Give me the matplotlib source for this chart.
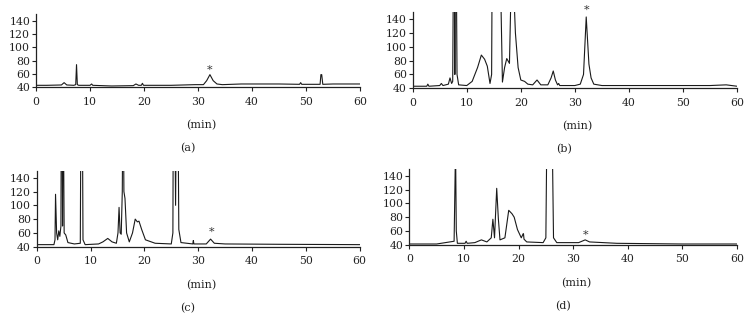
import matplotlib
matplotlib.use("Agg")
import matplotlib.pyplot as plt

plt.rcParams['font.family'] = ['DejaVu Serif']

# ---- data (time in min, detector signal) ----
a_t = [0, 2, 4.7, 5.2, 5.7, 7.0, 7.35, 7.5, 7.65, 7.9, 10, 10.3, 10.5, 14, 18, 18.5, 19, 19.5,
       19.7, 19.9, 25, 29.5, 31, 31.6, 32.2, 32.8, 33.5, 34.5, 38, 45, 48.8, 49, 49.2,
       52.6, 52.75, 52.9, 53.1, 55, 60]
a_v = [43, 43, 43.5, 47, 43.5, 43, 44, 74, 44, 43, 43, 45, 43, 42, 42.5, 45, 43, 43,
       46, 43, 43, 44, 44, 50, 59, 50, 45, 44, 45, 45, 44.5, 47, 44.5,
       44.5, 59, 59, 44.5, 45, 45]
a_star = (32.2, 66)

b_t = [0, 2.6, 2.8, 3.0, 5.0, 5.3, 5.6, 6.6, 6.9, 7.2, 7.4, 7.6, 7.7, 7.8, 7.9, 8.0, 8.2, 8.5,
       10, 11, 12.0, 12.7, 13.3, 13.8, 14.3, 14.6, 14.75, 14.9, 15.4, 16.0, 16.6, 17.0, 17.4,
       17.9, 18.1, 18.3, 18.6, 19.0, 19.5, 20.0, 20.7, 21.3, 22.2, 23.0, 23.7, 25.0, 25.6, 26.0,
       26.4, 26.8, 27.0, 27.2, 29, 30, 31.0, 31.6, 32.1, 32.6, 33.0, 33.5, 35, 40, 50, 55, 58, 60]
b_v = [43, 43, 46, 43, 44, 47, 44, 46, 55, 47, 50, 300, 300, 60, 300, 300, 60, 45,
       44, 50, 70, 88, 82, 72, 47, 60, 300, 300, 300, 300, 49, 70, 83,
       76, 150, 200, 200, 120, 70, 52, 50, 46, 45, 52, 45, 45, 55, 65,
       52, 45, 47, 44, 44, 44, 46, 60, 143, 75, 55, 46, 44, 44, 44, 44, 45, 43]
b_star = (32.2, 153)

c_t = [0, 3.2, 3.4, 3.5, 3.7, 3.9, 4.1, 4.3, 4.5, 4.6, 4.7, 4.8, 4.9, 5.1, 5.4, 5.8, 7.0,
       8.1, 8.25, 8.35, 8.45, 8.6, 9.0, 11.5, 12.3, 13.2, 14.0, 14.8, 15.1, 15.3, 15.5, 15.7,
       15.9, 16.05, 16.2, 16.4, 16.7, 17.2, 17.8, 18.3, 18.7, 19.0, 19.5, 20.2, 22, 25,
       25.3, 25.4, 25.6, 25.8, 26.0, 26.2, 26.4, 26.8, 29, 29.1, 29.2, 31.5, 32.3, 33, 35, 45, 60]
c_v = [43, 43, 50, 116, 60, 50, 63, 55, 70, 300, 300, 70, 300, 60, 57, 46, 44,
       45, 300, 300, 300, 50, 43, 44, 47, 52, 47, 45, 60, 97, 60, 58,
       120, 300, 120, 110, 60, 47, 60, 80, 76, 77, 65, 50, 45, 44,
       60, 300, 300, 100, 300, 300, 65, 46, 44, 49, 44, 44, 51, 45, 44, 43.5, 43]
c_star = (32.4, 61)

d_t = [0, 5, 8.2, 8.4, 8.5, 8.6, 8.8, 10.2, 10.4, 10.6, 12.0, 13.2, 14.2, 15.0, 15.3, 15.6,
       16.0, 16.3, 16.6, 17.5, 18.2, 18.8, 19.2, 19.8, 20.5, 20.85, 20.9, 21.0, 21.5, 24.5,
       25.0, 25.3, 25.5, 25.8, 26.0, 26.4, 27, 31, 32.2, 33, 38, 50, 60]
d_v = [41, 41, 45, 150, 150, 60, 42, 42, 45, 42, 43, 47, 44, 50, 77, 50,
       122, 78, 47, 50, 90, 85, 80, 62, 50, 56, 56, 48, 44, 43,
       50, 300, 300, 300, 300, 50, 43, 43, 47, 44, 42, 41, 41]
d_star = (32.2, 55)

panels = [
    ("(a)", a_t, a_v, a_star, [0.0479, 0.737, 0.4309, 0.221]),
    ("(b)", b_t, b_v, b_star, [0.5488, 0.734, 0.4313, 0.2295]),
    ("(c)", c_t, c_v, c_star, [0.0488, 0.2569, 0.4295, 0.2286]),
    ("(d)", d_t, d_v, d_star, [0.5443, 0.263, 0.4358, 0.2277]),
]
xticks = [0, 10, 20, 30, 40, 50, 60]
yticks = [40, 60, 80, 100, 120, 140]

fig = plt.figure(figsize=(7.52, 3.32), dpi=100)
for label, t, v, star, pos in panels:
    ax = fig.add_axes(pos)
    ax.plot(t, v, color='#1a1a1a', lw=0.8)
    ax.set_xlim(0, 60)
    ax.set_ylim(40, 150)
    ax.set_xticks(xticks)
    ax.set_yticks(yticks)
    for s in ['top', 'right']:
        ax.spines[s].set_visible(False)
    for s in ['left', 'bottom']:
        ax.spines[s].set_linewidth(0.9)
        ax.spines[s].set_color('#222222')
    ax.tick_params(axis='both', direction='out', length=3, width=0.8, labelsize=7.8,
                   colors='#222222', pad=1.2)
    ax.tick_params(axis='x', pad=4)
    ax.text(star[0], star[1], '*', ha='center', va='center', fontsize=8,
            color='#333333', clip_on=False)
    ax.annotate('(min)', xy=(0.5, 0), xycoords='axes fraction', xytext=(2, -27.5),
                textcoords='offset points', ha='center', va='center', fontsize=8,
                color='#222222')
    ax.annotate(label, xy=(0.5, 0), xycoords='axes fraction', xytext=(-7.5, -44),
                textcoords='offset points', ha='center', va='center', fontsize=8,
                color='#222222')

fig.savefig('out.png', dpi=100)
